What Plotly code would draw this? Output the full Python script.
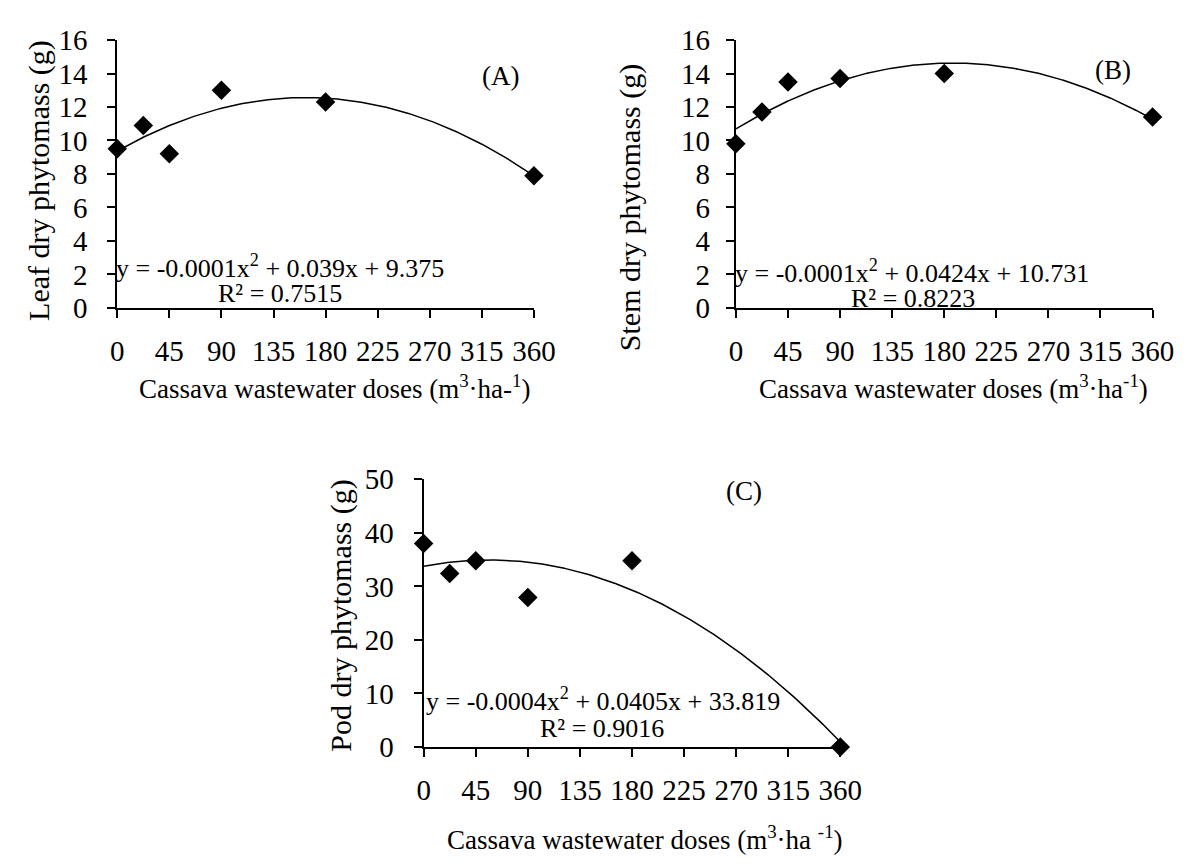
import numpy as np
import plotly.graph_objects as go

# ---- data ----
doses = [0, 22.5, 45, 90, 180, 360]
leaf = [9.5, 10.9, 9.2, 13.0, 12.3, 7.9]
stem = [9.8, 11.7, 13.5, 13.7, 14.0, 11.4]
pod = [38.0, 32.4, 34.8, 27.9, 34.8, 0.0]

x_ticks = [0, 45, 90, 135, 180, 225, 270, 315, 360]
y_ticks_ab = [0, 2, 4, 6, 8, 10, 12, 14, 16]
y_ticks_c = [0, 10, 20, 30, 40, 50]

eq_a = "y = -0.0001x<sup>2</sup> + 0.039x + 9.375"
r2_a = "R² = 0.7515"
eq_b = "y = -0.0001x<sup>2</sup> + 0.0424x + 10.731"
r2_b = "R² = 0.8223"
eq_c = "y = -0.0004x<sup>2</sup> + 0.0405x + 33.819"
r2_c = "R² = 0.9016"

xtitle_a = "Cassava wastewater doses (m<sup>3</sup>·ha-<sup>1</sup>)"
xtitle_b = "Cassava wastewater doses (m<sup>3</sup>·ha<sup>-1</sup>)"
xtitle_c = "Cassava wastewater doses (m<sup>3</sup>·ha <sup>-1</sup>)"
ytitle_a = "Leaf dry phytomass (g)"
ytitle_b = "Stem dry phytomass (g)"
ytitle_c = "Pod dry phytomass (g)"

W, H = 1197, 868
FONT = "Liberation Serif, Times New Roman, serif"


def px(x):
    return x / W


def py(y):
    return 1 - y / H


fig = go.Figure()

panels = [
    ("x", "y", leaf),
    ("x2", "y2", stem),
    ("x3", "y3", pod),
]

xfit = np.linspace(0, 360, 300)
for xa, ya, vals in panels:
    coef = np.polyfit(doses, vals, 2)
    fig.add_trace(go.Scatter(x=xfit, y=np.polyval(coef, xfit), mode="lines",
                             line=dict(color="black", width=1.5),
                             xaxis=xa, yaxis=ya, showlegend=False,
                             hoverinfo="skip", cliponaxis=False))
    fig.add_trace(go.Scatter(x=doses, y=vals, mode="markers",
                             marker=dict(symbol="diamond", size=15, color="black"),
                             xaxis=xa, yaxis=ya, showlegend=False,
                             cliponaxis=False))

axis_common = dict(showline=True, linecolor="black", linewidth=2,
                   ticks="outside", ticklen=8, tickwidth=1.5, tickcolor="black",
                   showgrid=False, zeroline=False,
                   tickfont=dict(family=FONT, size=29, color="black"))

doms = {
    "A": dict(x=[px(113), px(540)], y=[py(303), py(25)]),
    "B": dict(x=[px(747), px(1174)], y=[py(303), py(25)]),
    "C": dict(x=[px(427), px(854)], y=[py(759), py(481)]),
}

fig.update_layout(
    xaxis=dict(domain=doms["A"]["x"], anchor="y", range=[0, 360], tickvals=x_ticks,
               ticklabelstandoff=8, **axis_common),
    yaxis=dict(domain=doms["A"]["y"], anchor="x", range=[0, 16], tickvals=y_ticks_ab,
               ticklabelstandoff=14, **axis_common),
    xaxis2=dict(domain=doms["B"]["x"], anchor="y2", range=[0, 360], tickvals=x_ticks,
                ticklabelstandoff=8, **axis_common),
    yaxis2=dict(domain=doms["B"]["y"], anchor="x2", range=[0, 16], tickvals=y_ticks_ab,
                ticklabelstandoff=10, **axis_common),
    xaxis3=dict(domain=doms["C"]["x"], anchor="y3", range=[0, 360], tickvals=x_ticks,
                ticklabelstandoff=8, **axis_common),
    yaxis3=dict(domain=doms["C"]["y"], anchor="x3", range=[0, 50], tickvals=y_ticks_c,
                ticklabelstandoff=14, **axis_common),
    width=W, height=H,
    margin=dict(l=0, r=0, t=0, b=0),
    paper_bgcolor="white", plot_bgcolor="white",
    font=dict(family=FONT, color="black"),
)


def ann(text, x, y, size=26, angle=0):
    fig.add_annotation(text=text, x=px(x), y=py(y), xref="paper", yref="paper",
                       showarrow=False, xanchor="center", yanchor="middle",
                       textangle=angle, font=dict(family=FONT, size=size, color="black"))


ann("(A)", 506, 62, size=27)
ann("(B)", 1133, 56, size=27)
ann("(C)", 755, 493, size=27)
ann(eq_a, 280, 260)
ann(r2_a, 280, 288)
ann(eq_b, 927, 265)
ann(r2_b, 928, 293)
ann(eq_c, 611, 710)
ann(r2_c, 610, 740)
ann(xtitle_a, 336, 385, size=27)
ann(xtitle_b, 970, 385, size=27)
ann(xtitle_c, 654, 853, size=27)
ann(ytitle_a, 32, 171, size=30, angle=-90)
ann(ytitle_b, 638, 199, size=30, angle=-90)
ann(ytitle_c, 342, 622, size=30, angle=-90)

fig.write_html("out.html", config={"displayModeBar": False},
               post_script="document.body.style.margin='0';document.body.style.overflow='hidden';")
